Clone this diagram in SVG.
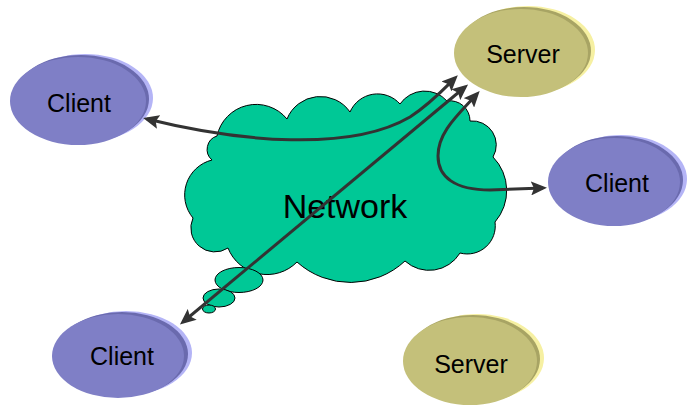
<svg xmlns="http://www.w3.org/2000/svg" width="687" height="406" viewBox="0 0 687 406">
<defs>
<marker id="ah" viewBox="0 0 16 14" refX="12" refY="7" markerWidth="16" markerHeight="14" markerUnits="userSpaceOnUse" orient="auto-start-reverse">
<path d="M0,0 L16,7 L0,14 L3,7 z" fill="#333333"/>
</marker>
</defs>
<style>
.client{fill:#7f7fc6}
.clientb{fill:#b4b4f6}
.clientm{fill:#6a6aae}
.server{fill:#c4c07a}
.serverb{fill:#f6f0a2}
.serverm{fill:#a8a464}
.lbl{font-family:"Liberation Sans",Arial,sans-serif;font-size:25px;fill:#000;text-anchor:middle}
.cloud{fill:#00c896;stroke:#000;stroke-width:1}
.conn{fill:none;stroke:#333333;stroke-width:3;marker-start:url(#ah);marker-end:url(#ah)}
</style>
<rect width="687" height="406" fill="#ffffff"/>

<g id="network">
<path class="cloud" d="M217,136 A40,40 0 0 1 287,119 A36,36 0 0 1 350,112 A30,30 0 0 1 400,104 A30,30 0 0 1 447,101 A20,20 0 0 1 470,121 A24,24 0 0 1 493,157 A48,48 0 0 1 495,222 A28,28 0 0 1 460,253 A36,36 0 0 1 405,261 A80,80 0 0 1 297,262 A42,42 0 0 1 228,248 A24,24 0 0 1 193,218 A36,36 0 0 1 212,160 A14,14 0 0 1 217,136 z"/>
<ellipse class="cloud" cx="239" cy="280" rx="24" ry="12.5"/>
<ellipse class="cloud" cx="219" cy="298" rx="16" ry="9"/>
<ellipse class="cloud" cx="209" cy="309" rx="6.5" ry="4"/>
<text x="345" y="218" style="font-family:'Liberation Sans',Arial,sans-serif;font-size:34px;fill:#000;text-anchor:middle">Network</text>
</g>

<g id="client1">
<ellipse class="clientb" cx="85" cy="98" rx="68" ry="44"/>
<ellipse class="clientm" cx="81" cy="99" rx="68" ry="44"/>
<ellipse class="client" cx="78" cy="101" rx="68" ry="44"/>
<text class="lbl" x="79" y="112">Client</text>
</g>

<g id="server1">
<ellipse class="serverb" cx="528" cy="50" rx="67" ry="44"/>
<ellipse class="serverm" cx="524" cy="51" rx="67" ry="44"/>
<ellipse class="server" cx="521" cy="53" rx="67" ry="44"/>
<text class="lbl" x="523" y="63">Server</text>
</g>

<g id="client2">
<ellipse class="clientb" cx="621" cy="179" rx="66" ry="44"/>
<ellipse class="clientm" cx="617" cy="180" rx="66" ry="44"/>
<ellipse class="client" cx="614" cy="182" rx="66" ry="44"/>
<text class="lbl" x="617" y="192">Client</text>
</g>

<g id="client3">
<ellipse class="clientb" cx="126" cy="353" rx="66" ry="42"/>
<ellipse class="clientm" cx="122" cy="354" rx="66" ry="42"/>
<ellipse class="client" cx="118" cy="356" rx="66" ry="42"/>
<text class="lbl" x="122" y="365">Client</text>
</g>

<g id="server2">
<ellipse class="serverb" cx="477" cy="358" rx="67" ry="44"/>
<ellipse class="serverm" cx="473" cy="359" rx="67" ry="44"/>
<ellipse class="server" cx="470" cy="361" rx="67" ry="44"/>
<text class="lbl" x="471" y="373">Server</text>
</g>

<g id="connectors">
<path class="conn" d="M147,119 C240,142 350,152 410,117 C430,104 445,88 455,78"/>
<path class="conn" d="M183,322 L465,87"/>
<path class="conn" d="M543,188 L490,190 C455,190 438,177 438,156 C438,132 458,115 477,94"/>
</g>
</svg>
